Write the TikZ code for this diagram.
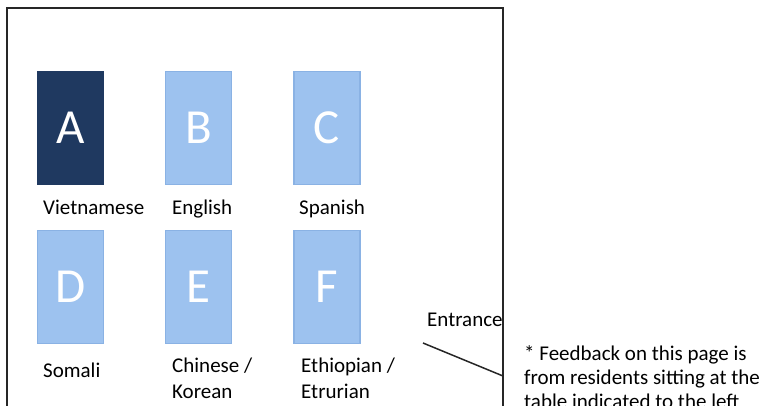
\documentclass[tikz,border=0pt]{standalone}
\usepackage{fontspec}
\setmainfont{Carlito}
\usetikzlibrary{positioning}
\definecolor{tabdark}{RGB}{31,57,96}
\definecolor{tablight}{RGB}{157,194,239}
\definecolor{tabedge}{RGB}{138,178,228}
\tikzset{tbl/.style = {draw=tabedge, line width=1.2pt, fill=tablight,
                       minimum width=66pt, minimum height=113pt, inner sep=0pt,
                       text=white, font=\fontsize{49}{49}\selectfont},
         tblsel/.style = {tbl, draw=tabdark, fill=tabdark},
         lbl/.style = {anchor=base west, inner sep=0pt, align=left,
                       font=\fontsize{21}{26}\selectfont},
         wall/.style = {line width=1.5pt, black!85}}

\begin{document}
\begin{tikzpicture}[x=1pt, y=-1pt]
    \useasboundingbox (0,0) rectangle (767,406);

    % room
    \coordinate (wallBL) at (7,420);
    \coordinate (wallTL) at (7,8);
    \coordinate (wallTR) at (503,8);
    \coordinate (wallBR) at (503,420);
    \draw[wall] (wallBL) -- (wallTL) -- (wallTR) -- (wallBR);

    % tables
    \node[tblsel] (A) at (70.5,128) {A};
    \node[tbl]    (B) [right=61pt of A] {B};
    \node[tbl]    (C) [right=61pt of B] {C};
    \node[tbl]    (D) [below=45pt of A] {D};
    \node[tbl]    (E) [right=61pt of D] {E};
    \node[tbl]    (F) [right=61pt of E] {F};

    % y is the baseline of the last line
    \foreach \Tab/\X/\Y/\Label in {%
        A/43/214/Vietnamese,
        B/172/214/English,
        C/299/214/Spanish,
        D/43/377/Somali,
        E/172/398/{Chinese /\\Korean},
        F/301/398/{Ethiopian /\\Etrurian}%
    }
    \node[lbl] (lang\Tab) at (\X,\Y) {\Label};

    % door
    \node[lbl] (entrance) at (427,326) {Entrance};
    \coordinate (hinge) at (503,376);
    \coordinate (doorEnd) at (423,343);
    \draw[wall] (hinge) -- (doorEnd);

    \node[lbl, font=\fontsize{21}{24}\selectfont] (note) at (524,408)
        {* Feedback on this page is\\from residents sitting at the\\table indicated to the left};
\end{tikzpicture}
\end{document}
